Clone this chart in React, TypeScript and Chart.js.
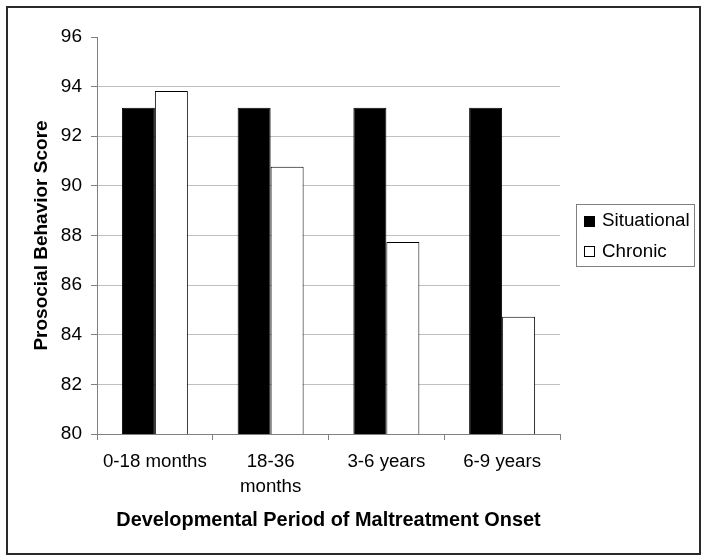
import React, { useEffect, useRef } from "react";
import { Chart, registerables } from "chart.js";

Chart.register(...registerables);

const categories: (string | string[])[] = ["0-18 months", ["18-36", "months"], "3-6 years", "6-9 years"];
const situational = [93.15, 93.15, 93.15, 93.15];
const chronic = [93.82, 90.77, 87.74, 84.73];
const seriesNames = ["Situational", "Chronic"];
const yTitle = "Prosocial Behavior Score";
const xTitle = "Developmental Period of Maltreatment Onset";

const FONT = "'Liberation Sans', Arial, Helvetica, sans-serif";

const framePlugin = {
  id: "frame",
  afterDraw(chart: any) {
    const ctx = chart.ctx;
    ctx.save();
    // outer border
    ctx.strokeStyle = "#2a2a2a";
    ctx.lineWidth = 2;
    ctx.strokeRect(7, 7, 693, 547);
    // legend
    ctx.strokeStyle = "#808080";
    ctx.lineWidth = 1;
    ctx.strokeRect(576.5, 204.5, 118, 62);
    ctx.fillStyle = "#000";
    ctx.fillRect(584, 216, 11, 11);
    ctx.fillStyle = "#fff";
    ctx.fillRect(584, 246, 11, 11);
    ctx.strokeStyle = "#000";
    ctx.strokeRect(584.5, 246.5, 10, 10);
    ctx.fillStyle = "#000";
    ctx.font = `18.8px ${FONT}`;
    ctx.textBaseline = "middle";
    ctx.textAlign = "left";
    ctx.fillText(seriesNames[0], 602, 221);
    ctx.fillText(seriesNames[1], 602, 252);
    ctx.restore();
  },
};

export default function App() {
  const ref = useRef<HTMLCanvasElement>(null);
  useEffect(() => {
    if (!ref.current) return;
    const chart = new Chart(ref.current, {
      type: "bar",
      data: {
        labels: categories as any,
        datasets: [
          {
            label: seriesNames[0],
            data: situational,
            backgroundColor: "#000",
            borderColor: "#000",
            borderWidth: 1,
          },
          {
            label: seriesNames[1],
            data: chronic,
            backgroundColor: "#fff",
            borderColor: "#000",
            borderWidth: 1,
          },
        ],
      },
      options: {
        animation: false,
        responsive: false,
        events: [],
        layout: { padding: { left: 0, right: 147, top: 37, bottom: 0 } },
        plugins: { legend: { display: false }, tooltip: { enabled: false } },
        datasets: { bar: { categoryPercentage: 0.57, barPercentage: 1 } },
        scales: {
          x: {
            grid: {
              display: true,
              offset: true,
              drawOnChartArea: false,
              drawTicks: true,
              tickLength: 6,
              color: "#808080",
              tickColor: "#808080",
            },
            border: { display: true, color: "#808080", width: 1 },
            ticks: {
              color: "#000",
              font: { family: FONT, size: 18.7, lineHeight: 1.3 },
              padding: 10,
              maxRotation: 0,
              autoSkip: false,
            },
            title: {
              display: true,
              text: xTitle,
              color: "#000",
              font: { family: FONT, size: 19.9, weight: "bold", lineHeight: 1.2 },
              padding: { top: 0, bottom: 28 },
            },
            afterFit(scale: any) {
              scale.height = 126;
            },
          },
          y: {
            min: 80,
            max: 96,
            ticks: {
              stepSize: 2,
              color: "#000",
              font: { family: FONT, size: 19 },
              padding: 9,
            },
            grid: {
              color: (c: any) => (c.tick && c.tick.value === 96 ? "rgba(0,0,0,0)" : "#c0c0c0"),
              tickColor: "#808080",
              tickLength: 6,
              drawTicks: true,
            },
            border: { display: true, color: "#808080", width: 1 },
            title: {
              display: true,
              text: yTitle,
              color: "#000",
              font: { family: FONT, size: 19, weight: "bold", lineHeight: 1.2 },
              padding: { top: 30.5, bottom: 0 },
            },
            afterFit(scale: any) {
              scale.width = 97;
            },
          },
        },
      },
      plugins: [framePlugin],
    } as any);
    return () => chart.destroy();
  }, []);
  return (
    <div style={{ position: "absolute", left: 0, top: 0, width: 707, height: 560, background: "#fff" }}>
      <canvas ref={ref} width={707} height={560} style={{ display: "block" }} />
    </div>
  );
}
